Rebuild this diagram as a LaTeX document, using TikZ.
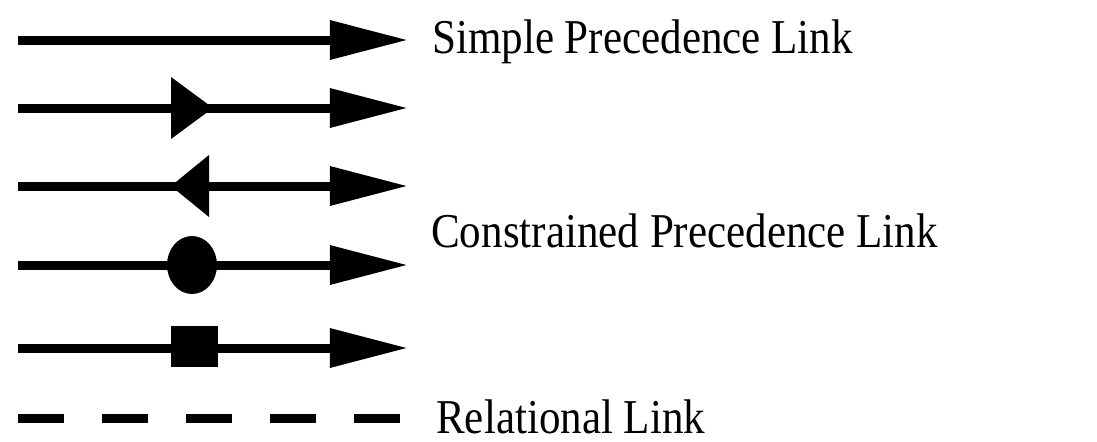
\documentclass[tikz,border=0pt]{standalone}
\usepackage{fontspec}
\setmainfont{Liberation Serif}
\usetikzlibrary{arrows.meta}

% labels in the legend are set a little taller than the font
\newcommand{\talltext}[1]{\scalebox{1}[1.13]{#1}}

\begin{document}
\begin{tikzpicture}[x=0.025cm,y=-0.025cm,
  link/.style={line width=6.4pt,-{Triangle[length=1.95cm,width=0.93cm]}},
  rel/.style={line width=6.4pt,dash pattern=on 1.15cm off 0.95cm},
  lbl/.style={anchor=base west,inner sep=0pt,font=\fontsize{30.6}{34}\selectfont}]
  \useasboundingbox (0,0) rectangle (1097,441);

  % --- end points of the legend lines ---
  \coordinate (s1) at (18,40);  \coordinate (e1) at (408,40);
  \coordinate (s2) at (18,108); \coordinate (e2) at (408,108);
  \coordinate (s3) at (18,186); \coordinate (e3) at (408,186);
  \coordinate (s4) at (18,265); \coordinate (e4) at (408,265);
  \coordinate (s5) at (18,348); \coordinate (e5) at (408,348);
  \coordinate (s6) at (18,418); \coordinate (e6) at (400,418);

  % --- simple precedence ---
  \draw[link] (s1) -- (e1);

  % --- constrained precedence (four variants) ---
  \draw[link] (s2) -- (e2);
  \fill (171,77) -- (213,108) -- (171,139) -- cycle;
  \draw[link] (s3) -- (e3);
  \fill (209,155) -- (171,186) -- (209,217) -- cycle;
  \draw[link] (s4) -- (e4);
  \fill (192,265) ellipse (25 and 29);
  \draw[link] (s5) -- (e5);
  \fill (171,326) rectangle (218,367);

  % --- relational ---
  \draw[rel] (s6) -- (e6);

  % labels
  \node[lbl] (simple) at (432,53) {\talltext{Simple Precedence Link}};
  \node[lbl] (constr) at (431,247) {\talltext{Constrained Precedence Link}};
  \node[lbl] (relat) at (436,433) {\talltext{Relational Link}};
\end{tikzpicture}
\end{document}
